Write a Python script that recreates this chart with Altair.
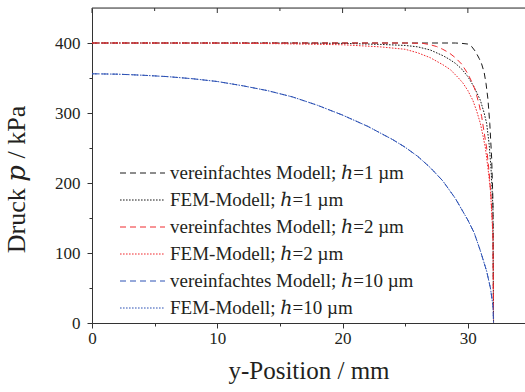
import altair as alt
import pandas as pd

# ---- data ----
labels = [
    "vereinfachtes Modell; ℎ=1 µm",
    "FEM-Modell; ℎ=1 µm",
    "vereinfachtes Modell; ℎ=2 µm",
    "FEM-Modell; ℎ=2 µm",
    "vereinfachtes Modell; ℎ=10 µm",
    "FEM-Modell; ℎ=10 µm",
]

x_v1 = [0, 10, 20, 25, 28, 29, 29.5, 30, 30.3, 30.6, 30.9, 31.1, 31.3, 31.45, 31.6, 31.75, 31.9, 32.0, 32.05]
p_v1 = [400, 400, 400, 400, 400, 400, 399.5, 398.5, 395, 388, 378, 370, 358, 342, 320, 285, 235, 175, 0]

x_f1 = [0, 15, 20, 23, 25, 26, 27, 28, 28.5, 29, 29.5, 30, 30.5, 31, 31.3, 31.5, 31.7, 31.85, 32.0, 32.05]
p_f1 = [400, 400, 399.5, 398, 396.5, 394.5, 390, 382, 377, 371, 363, 352, 337, 318, 300, 285, 255, 220, 165, 0]

x_v2 = [0, 25, 26.4, 27, 27.5, 28, 28.5, 29, 29.5, 30, 30.3, 30.6, 30.9, 31.1, 31.3, 31.5, 31.7, 31.85, 32.0, 32.05]
p_v2 = [400, 400, 399.5, 397.5, 395, 391, 386, 379, 370, 356, 345, 332, 312, 295, 272, 250, 215, 180, 130, 0]

x_f2 = [0, 10, 15, 20, 23, 25, 26, 27, 28, 28.6, 29.2, 29.6, 30.0, 30.4, 30.7, 31.0, 31.2, 31.4, 31.6, 31.8, 32.0, 32.05]
p_f2 = [400, 399.8, 399, 397.5, 394.5, 391, 386, 379, 369, 362, 351, 343, 332, 318, 303, 285, 268, 250, 222, 190, 125, 0]

x_v10 = [0, 2, 4, 6, 8, 10, 12, 14, 16, 18, 20, 22, 24, 25, 26, 27, 28, 29, 30, 30.5, 31, 31.5, 31.8, 32.0, 32.05]
p_v10 = [356, 355.5, 354, 352, 349, 345, 339, 332, 323, 311, 297, 281, 262, 251, 238, 222, 203, 178, 147, 129, 103, 74, 50, 25, 0]

x_f10 = [0, 2, 4, 6, 8, 10, 12, 14, 16, 18, 20, 22, 24, 25, 26, 27, 28, 29, 30, 30.5, 31, 31.5, 31.8, 32.0, 32.05]
p_f10 = [356, 355.5, 354, 352, 349, 345, 339, 332, 323, 311, 297, 281, 262, 251, 238, 222, 203, 178, 147, 129, 103, 74, 50, 25, 0]

colors = ["#1a1a1a", "#1a1a1a", "#f02a2f", "#f02a2f", "#2d52b5", "#2d52b5"]
dashes = [[6, 4], [1.6, 1.4], [6, 4], [1.6, 1.4], [6, 4], [1.6, 1.4]]

x_ticks = [0, 5, 10, 15, 20, 25, 30]
y_ticks = [0, 50, 100, 150, 200, 250, 300, 350, 400]
X_MAX = 34.56
Y_MAX = 450

# ---- build tables ----
series_x = [x_v1, x_f1, x_v2, x_f2, x_v10, x_f10]
series_p = [p_v1, p_f1, p_v2, p_f2, p_v10, p_f10]
rows = []
for lab, xs, ps in zip(labels, series_x, series_p):
    for i, (xv, pv) in enumerate(zip(xs, ps)):
        rows.append({"series": lab, "x": xv, "p": pv, "ord": i})
df = pd.DataFrame(rows)
leg_df = pd.DataFrame({"series": labels, "row": list(range(len(labels)))})

PLOT_W, PLOT_H = 433, 315
FONT = "Liberation Serif, DejaVu Serif"
TXT = "#231f20"
AX = "#333333"

x_axis = alt.Axis(
    values=x_ticks,
    labelExpr="datum.value % 10 === 0 ? datum.label : ''",
    tickSize={"condition": {"test": "datum.value % 10 === 0", "value": 5}, "value": 3},
    grid=False, domainColor=AX, tickColor=AX, domainWidth=1, tickWidth=1,
    labelFont=FONT, labelFontSize=17, labelColor=TXT, labelPadding=2,
    labelFlush=False, labelOverlap=False,
    title="y-Position / mm", titleFont=FONT, titleFontSize=25,
    titleFontWeight="normal", titleColor=TXT, titlePadding=12,
)
y_axis = alt.Axis(
    values=y_ticks,
    labelExpr="datum.value % 100 === 0 ? datum.label : ''",
    tickSize={"condition": {"test": "datum.value % 100 === 0", "value": 5}, "value": 3},
    grid=False, domainColor=AX, tickColor=AX, domainWidth=1, tickWidth=1,
    labelFont=FONT, labelFontSize=17, labelColor=TXT, labelPadding=7,
    labelOverlap=False,
    title="Druck 𝑝 / kPa", titleFont=FONT, titleFontSize=26,
    titleFontWeight="normal", titleColor=TXT, titlePadding=25, titleY=171,
)

x_scale = alt.Scale(domain=[0, X_MAX], nice=False, zero=False)
y_scale = alt.Scale(domain=[0, Y_MAX], nice=False)
color_scale = alt.Scale(domain=labels, range=colors)
dash_scale = alt.Scale(domain=labels, range=dashes)

lines = alt.Chart(df).mark_line(strokeWidth=1).encode(
    x=alt.X("x:Q", scale=x_scale, axis=x_axis),
    y=alt.Y("p:Q", scale=y_scale, axis=y_axis),
    color=alt.Color("series:N", scale=color_scale, legend=None),
    strokeDash=alt.StrokeDash("series:N", scale=dash_scale, legend=None),
    order="ord:Q",
)

tick_df = pd.DataFrame({"x": x_ticks, "major": [v % 10 == 0 for v in x_ticks]})
top_major = alt.Chart(tick_df).transform_filter("datum.major").mark_rule(color=AX, strokeWidth=1).encode(
    x=alt.X("x:Q", scale=x_scale, axis=x_axis), y=alt.value(0), y2=alt.value(5)
)
top_minor = alt.Chart(tick_df).transform_filter("!datum.major").mark_rule(color=AX, strokeWidth=1).encode(
    x=alt.X("x:Q", scale=x_scale, axis=x_axis), y=alt.value(0), y2=alt.value(3)
)
top_line = alt.Chart(pd.DataFrame({"a": [0]})).mark_rule(color=AX, strokeWidth=1).encode(
    x=alt.value(0), x2=alt.value(PLOT_W), y=alt.value(0)
)

# ---- legend drawn as marks (row positions from a point scale) ----
row_scale = alt.Scale(type="point", domain=list(range(len(labels))), range=[165, 300], padding=0)
leg_sym = alt.Chart(leg_df).mark_rule(strokeWidth=1).encode(
    x=alt.value(28), x2=alt.value(73),
    y=alt.Y("row:O", scale=row_scale, axis=None),
    color=alt.Color("series:N", scale=color_scale, legend=None),
    strokeDash=alt.StrokeDash("series:N", scale=dash_scale, legend=None),
)
leg_txt = alt.Chart(leg_df).mark_text(
    align="left", baseline="middle", font=FONT, fontSize=19, color=TXT
).encode(
    x=alt.value(78),
    y=alt.Y("row:O", scale=row_scale, axis=None),
    text="series:N",
)
legend_layer = alt.layer(leg_sym, leg_txt)

chart = alt.layer(lines, top_line, top_major, top_minor, legend_layer).resolve_scale(
    y="independent"
).properties(
    width=PLOT_W, height=PLOT_H,
    padding={"left": 92, "top": 8, "right": 0, "bottom": 69},
    autosize="none",
).configure_view(stroke=None).configure(background="white")

chart.save("out.html", embed_options={"renderer": "svg", "actions": False})
